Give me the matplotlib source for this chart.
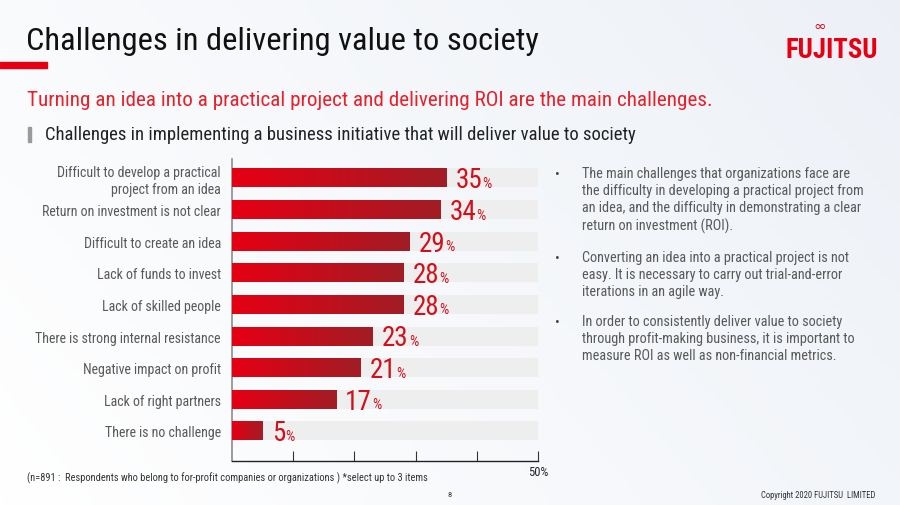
import numpy as np
import matplotlib
matplotlib.use("Agg")
import matplotlib.pyplot as plt
from matplotlib import font_manager
from matplotlib.patches import Rectangle

# ---------------- data ----------------
categories = [
    "Difficult to develop a practical\nproject from an idea",
    "Return on investment is not clear",
    "Difficult to create an idea",
    "Lack of funds to invest",
    "Lack of skilled people",
    "There is strong internal resistance",
    "Negative impact on profit",
    "Lack of right partners",
    "There is no challenge",
]
values = [35, 34, 29, 28, 28, 23, 21, 17, 5]
x_max = 50
x_ticks = [10, 20, 30, 40, 50]
x_tick_labels = ["", "", "", "", "50%"]

title = "Challenges in delivering value to society"
subtitle = "Turning an idea into a practical project and delivering ROI are the main challenges."
section = "Challenges in implementing a business initiative that will deliver value to society"
bullets = [
    "The main challenges that organizations face are\nthe difficulty in developing a practical project from\nan idea, and the difficulty in demonstrating a clear\nreturn on investment (ROI).",
    "Converting an idea into a practical project is not\neasy. It is necessary to carry out trial-and-error\niterations in an agile way.",
    "In order to consistently deliver value to society\nthrough profit-making business, it is important to\nmeasure ROI as well as non-financial metrics.",
]
footnote = "(n=891 :  Respondents who belong to for-profit companies or organizations ) *select up to 3 items"
page_no = "8"
copyright_txt = "Copyright 2020 FUJITSU  LIMITED"

# ---------------- fonts ----------------
available = {f.name for f in font_manager.fontManager.ttflist}
font = "Lato"
for cand in ["Roboto Condensed", "Liberation Sans Narrow", "Open Sans Condensed", "Lato"]:
    if cand in available:
        font = cand
        break
plt.rcParams["font.family"] = [font, "DejaVu Sans"]

W, H = 900, 506
fig = plt.figure(figsize=(W / 100, H / 100), dpi=100)


def fx(px):
    return px / W


def fy(py):
    return 1 - py / H


# background gradient
bg = fig.add_axes([0, 0, 1, 1], zorder=-10)
gx = np.linspace(0, 1, 256)
gy = np.linspace(0, 1, 64)
G = np.clip(0.55 * gx[None, :] + 0.25 * (1 - gy[:, None]), 0, 1)
c0 = np.array([1.0, 1.0, 1.0])
c1 = np.array([0.91, 0.93, 0.96])
img = c0[None, None, :] * (1 - G[..., None]) + c1[None, None, :] * G[..., None]
bg.imshow(img, aspect="auto", extent=[0, 1, 0, 1])
bg.set_axis_off()

# ---------------- header ----------------
fig.text(fx(26), fy(41), title, fontsize=23.4, color="#111111", va="center", ha="left")
fig.patches.append(Rectangle((0, fy(69)), fx(47), 6 / H, transform=fig.transFigure,
                             color="#e60012", zorder=5))
fig.text(fx(27), fy(100), subtitle, fontsize=15.2, color="#e8202a", va="center", ha="left")
fig.patches.append(Rectangle((fx(28), fy(143)), 3 / W, 15 / H, transform=fig.transFigure,
                             color="#9a9a9a", zorder=5))
fig.text(fx(45), fy(135), section, fontsize=13.4, color="#222222", va="center", ha="left")

# logo
fig.text(fx(832), fy(51), "FUJITSU", fontsize=19.3, fontweight="bold", color="#e60012",
         ha="center", va="center")
fig.text(fx(820), fy(26), "\u221e", fontsize=11, color="#e60012", ha="center", va="center",
         family="DejaVu Sans")

# ---------------- chart ----------------
ax = fig.add_axes([fx(232), fy(462), fx(538) - fx(232), (462 - 160) / H])
ax.patch.set_alpha(0)
n = len(categories)
ypos = np.arange(n)
bar_h = 0.6

ax.barh(ypos, [x_max] * n, height=bar_h, color="#eeeeee", zorder=1)
bars = ax.barh(ypos, values, height=bar_h, color="#c8101e", zorder=2)

grad = np.linspace(0, 1, 256)[None, :]
cmap = matplotlib.colors.LinearSegmentedColormap.from_list("rg", ["#e50013", "#a11d25"])
for b in bars:
    x0, y0 = b.get_x(), b.get_y()
    w, h = b.get_width(), b.get_height()
    im = ax.imshow(grad, cmap=cmap, aspect="auto", extent=[x0, x0 + w, y0 + h, y0],
                   zorder=3, interpolation="bilinear")
    im.set_clip_path(b)

for yi, v in zip(ypos, values):
    t = ax.text(v + 1.5, yi + 0.06, f"{v}", fontsize=19.5, color="#d0101b",
                va="center", ha="left", zorder=4)
    ax.annotate("%", xy=(1, 0), xycoords=t, xytext=(0.2, 2.5), textcoords="offset points",
                fontsize=10.5, color="#d0101b", va="bottom", ha="left", zorder=4)

ax.set_xlim(0, x_max)
ax.set_ylim(n - 1 + 0.95, -0.6)
ax.set_yticks(ypos)
ax.set_yticklabels(categories, fontsize=10, color="#595959", linespacing=1.25)
ax.tick_params(axis="y", length=0, pad=8)
ax.set_xticks(x_ticks)
ax.set_xticklabels(x_tick_labels, fontsize=9, color="#222222")
ax.tick_params(axis="x", direction="in", length=7, width=0.8, color="#333333", pad=3)
for lab in ax.get_xticklabels():
    lab.set_horizontalalignment("center")
ax.spines["top"].set_visible(False)
ax.spines["right"].set_visible(False)
ax.spines["left"].set_color("#8c8c8c")
ax.spines["left"].set_linewidth(1.2)
ax.spines["bottom"].set_color("#222222")
ax.spines["bottom"].set_linewidth(1.0)

# ---------------- right bullets ----------------
bullet_y = [175, 259, 323]
for by, btxt in zip(bullet_y, bullets):
    fig.text(fx(555), fy(by), "\u2022", fontsize=10, color="#444444", va="center", ha="left")
    fig.text(fx(582), fy(by - 8), btxt, fontsize=10.3, color="#595959", va="top", ha="left",
             linespacing=1.27)

# ---------------- footer ----------------
fig.text(fx(27), fy(478), footnote, fontsize=7.5, color="#333333", va="center", ha="left")
fig.text(fx(450), fy(495), page_no, fontsize=6, color="#333333", va="center", ha="center")
fig.text(fx(875), fy(496), copyright_txt, fontsize=6.2, color="#333333", va="center", ha="right")

fig.savefig("out.png", dpi=100)
